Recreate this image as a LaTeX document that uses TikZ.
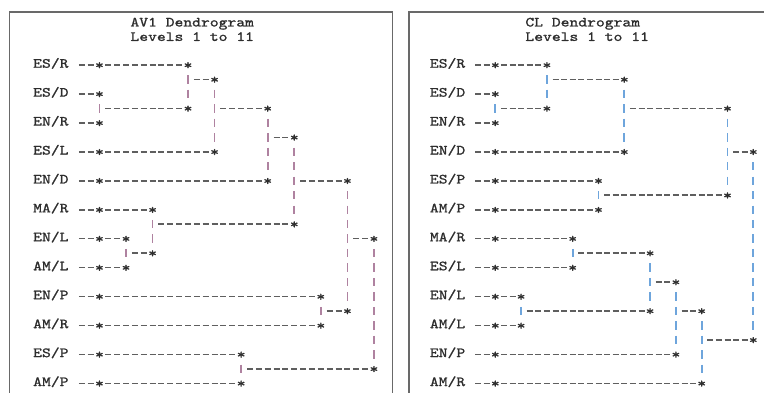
\documentclass[tikz,border=0pt]{standalone}
\usepackage{fontspec}
\newfontfamily\dendro[FakeStretch=1.2,FakeBold=1.2]{lmmono10-regular.otf}
\definecolor{inkc}{RGB}{45,45,45}
\definecolor{dashc}{RGB}{95,95,95}
\definecolor{framec}{RGB}{105,105,105}
\definecolor{avbar}{RGB}{175,130,160}
\definecolor{clbar}{RGB}{110,165,220}

\begin{document}
\begin{tikzpicture}[x=1pt,y=-1pt,
    dendro/.style={font=\dendro\fontsize{14}{14}\selectfont, text=inkc, inner sep=0pt, outer sep=0pt, text height=5.4pt, text depth=0pt},
    leaf/.style={dendro, anchor=east},
    title/.style={dendro, anchor=west},
    star/.style={dendro, text height=9pt},
    hline/.style={draw=dashc, line width=1.6pt, dash pattern=on 6pt off \dgap pt, shorten <=\dend pt, shorten >=\dend pt},
    lead/.style={hline, shorten <=\dlead pt},
    vline/.style={draw=barc, line width=1.8pt, dash pattern=on 8.4pt off 6.07pt, shorten <=10.27pt, shorten >=10.27pt},
    frame/.style={draw=framec, line width=1.6pt}]
    \useasboundingbox (0,0) rectangle (764,392);
    \draw[frame] (9.5,11.8) rectangle (392.3,420);
    \draw[frame] (408.8,12) rectangle (790,420);

    \begin{scope}[shift={(37.48,21.59)}, x=8.855pt, y=-14.47pt]
    \def\cw{8.855}
    \pgfmathsetmacro\dgap{\cw-6}
    \pgfmathsetmacro\dend{\cw-3}
    \pgfmathsetmacro\dlead{1.5*\cw-3}
    \colorlet{barc}{avbar}
    \node[title] (avt1) at (10.5,0.15) {AV1 Dendrogram};
    \node[title] (avt2) at (10.5,1.15) {Levels 1 to 11};
    \foreach \n/\r/\t/\c in {aesr/3/{ES/R}/17, aesd/5/{ES/D}/7, aenr/7/{EN/R}/7, aesl/9/{ES/L}/20,
        aend/11/{EN/D}/26, amar/13/{MA/R}/13, aenl/15/{EN/L}/10, aaml/17/{AM/L}/10,
        aenp/19/{EN/P}/32, aamr/21/{AM/R}/32, aesp/23/{ES/P}/23, aamp/25/{AM/P}/23}{
        \node[leaf] (\n) at (3.5,\r) {\t};
        \node[star] (\n0) at (7,\r) {*};
        \draw[lead] (\n.east) -- (\n0.center);
        \ifnum\c>7
            \node[star] (\n1) at (\c,\r) {*};
            \draw[hline] (\n0.center) -- (\n1.center);
        \fi
    }
    \foreach \a/\b/\c/\j/\p/\m in {aesd0/aenr0/7/6/17/am1, aesr1/am1/17/4/20/am2, am2/aesl1/20/6/26/am3,
        am3/aend1/26/8/29/am4, aenl1/aaml1/10/16/13/am5, amar1/am5/13/14/29/am6,
        am4/am6/29/11/35/am7, aenp1/aamr1/32/20/35/am8, am7/am8/35/15/38/am9,
        aesp1/aamp1/23/24/38/am10}{
        \draw[vline] (\a.center) -- (\b.center);
        \coordinate (\m-j) at (\c,\j);
        \node[star] (\m) at (\p,\j) {*};
        \draw[hline] (\m-j) -- (\m.center);
    }
    \draw[vline] (am9.center) -- (am10.center);
    \end{scope}

    \begin{scope}[shift={(435.1,21.59)}, x=8.6pt, y=-14.47pt]
    \def\cw{8.6}
    \pgfmathsetmacro\dgap{\cw-6}
    \pgfmathsetmacro\dend{\cw-3}
    \pgfmathsetmacro\dlead{1.5*\cw-3}
    \colorlet{barc}{clbar}
    \node[title] (clt1) at (10.5,0.15) {CL Dendrogram};
    \node[title] (clt2) at (10.5,1.15) {Levels 1 to 11};
    \foreach \n/\r/\t/\c in {cesr/3/{ES/R}/13, cesd/5/{ES/D}/7, cenr/7/{EN/R}/7, cend/9/{EN/D}/22,
        cesp/11/{ES/P}/19, camp/13/{AM/P}/19, cmar/15/{MA/R}/16, cesl/17/{ES/L}/16,
        cenl/19/{EN/L}/10, caml/21/{AM/L}/10, cenp/23/{EN/P}/28, camr/25/{AM/R}/31}{
        \node[leaf] (\n) at (3.5,\r) {\t};
        \node[star] (\n0) at (7,\r) {*};
        \draw[lead] (\n.east) -- (\n0.center);
        \ifnum\c>7
            \node[star] (\n1) at (\c,\r) {*};
            \draw[hline] (\n0.center) -- (\n1.center);
        \fi
    }
    \foreach \a/\b/\c/\j/\p/\m in {cesd0/cenr0/7/6/13/cm1, cesr1/cm1/13/4/22/cm2, cm2/cend1/22/6/34/cm3,
        cesp1/camp1/19/12/34/cm4, cm3/cm4/34/9/37/cm5, cmar1/cesl1/16/16/25/cm6,
        cenl1/caml1/10/20/25/cm7, cm6/cm7/25/18/28/cm8, cm8/cenp1/28/20/31/cm9,
        cm9/camr1/31/22/37/cm10}{
        \draw[vline] (\a.center) -- (\b.center);
        \coordinate (\m-j) at (\c,\j);
        \node[star] (\m) at (\p,\j) {*};
        \draw[hline] (\m-j) -- (\m.center);
    }
    \draw[vline] (cm5.center) -- (cm10.center);
    \end{scope}
\end{tikzpicture}
\end{document}
